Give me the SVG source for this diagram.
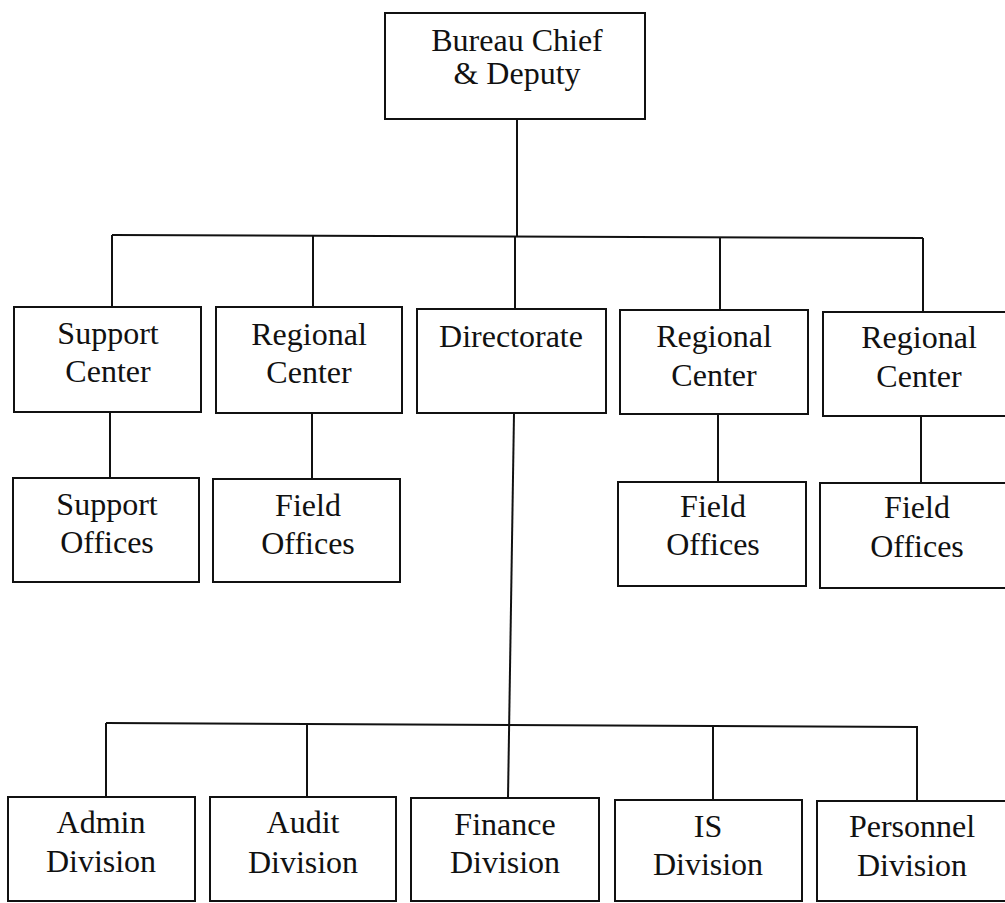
<svg xmlns="http://www.w3.org/2000/svg" width="1005" height="903" viewBox="0 0 1005 903">
<style>
.box{fill:#fff;stroke:#111;stroke-width:2}
.ln{fill:none;stroke:#111;stroke-width:2}
text{font-family:"Liberation Serif","Times New Roman",serif;font-size:32px;fill:#111;text-anchor:middle}
</style>
<rect width="1005" height="903" fill="#fff"/>
<g id="connectors">
<path class="ln" d="M517 120V237"/>
<path class="ln" d="M112 235L923 238"/>
<path class="ln" d="M112 235V307M313 236V307M515 236V309M720 237V310M923 238V312"/>
<path class="ln" d="M110 412V478M312 413V479M718 414V482M921 416V483"/>
<path class="ln" d="M514 413L508 798"/>
<path class="ln" d="M106 723L918 727"/>
<path class="ln" d="M106 723V797M307 723V797M713 726V800M917 727V801"/>
</g>
<g id="bureau-chief"><rect class="box" x="385" y="13" width="260" height="106"/><text x="517" y="51">Bureau Chief</text><text x="517" y="84">&amp; Deputy</text></g>
<g id="support-center"><rect class="box" x="14" y="307" width="187" height="105"/><text x="108" y="344">Support</text><text x="108" y="382">Center</text></g>
<g id="regional-center-1"><rect class="box" x="216" y="307" width="186" height="106"/><text x="309" y="345">Regional</text><text x="309" y="383">Center</text></g>
<g id="directorate"><rect class="box" x="417" y="309" width="189" height="104"/><text x="511" y="347">Directorate</text></g>
<g id="regional-center-2"><rect class="box" x="620" y="310" width="188" height="104"/><text x="714" y="347">Regional</text><text x="714" y="386">Center</text></g>
<g id="regional-center-3"><rect class="box" x="823" y="312" width="192" height="104"/><text x="919" y="348">Regional</text><text x="919" y="387">Center</text></g>
<g id="support-offices"><rect class="box" x="13" y="478" width="186" height="104"/><text x="107" y="515">Support</text><text x="107" y="553">Offices</text></g>
<g id="field-offices-1"><rect class="box" x="213" y="479" width="187" height="103"/><text x="308" y="516">Field</text><text x="308" y="554">Offices</text></g>
<g id="field-offices-2"><rect class="box" x="618" y="482" width="188" height="104"/><text x="713" y="517">Field</text><text x="713" y="555">Offices</text></g>
<g id="field-offices-3"><rect class="box" x="820" y="483" width="194" height="105"/><text x="917" y="518">Field</text><text x="917" y="557">Offices</text></g>
<g id="admin-division"><rect class="box" x="8" y="797" width="187" height="104"/><text x="101" y="833">Admin</text><text x="101" y="872">Division</text></g>
<g id="audit-division"><rect class="box" x="210" y="797" width="186" height="104"/><text x="303" y="833">Audit</text><text x="303" y="873">Division</text></g>
<g id="finance-division"><rect class="box" x="411" y="798" width="188" height="103"/><text x="505" y="835">Finance</text><text x="505" y="873">Division</text></g>
<g id="is-division"><rect class="box" x="615" y="800" width="187" height="101"/><text x="708" y="837">IS</text><text x="708" y="875">Division</text></g>
<g id="personnel-division"><rect class="box" x="817" y="801" width="192" height="100"/><text x="912" y="837">Personnel</text><text x="912" y="876">Division</text></g>
</svg>
